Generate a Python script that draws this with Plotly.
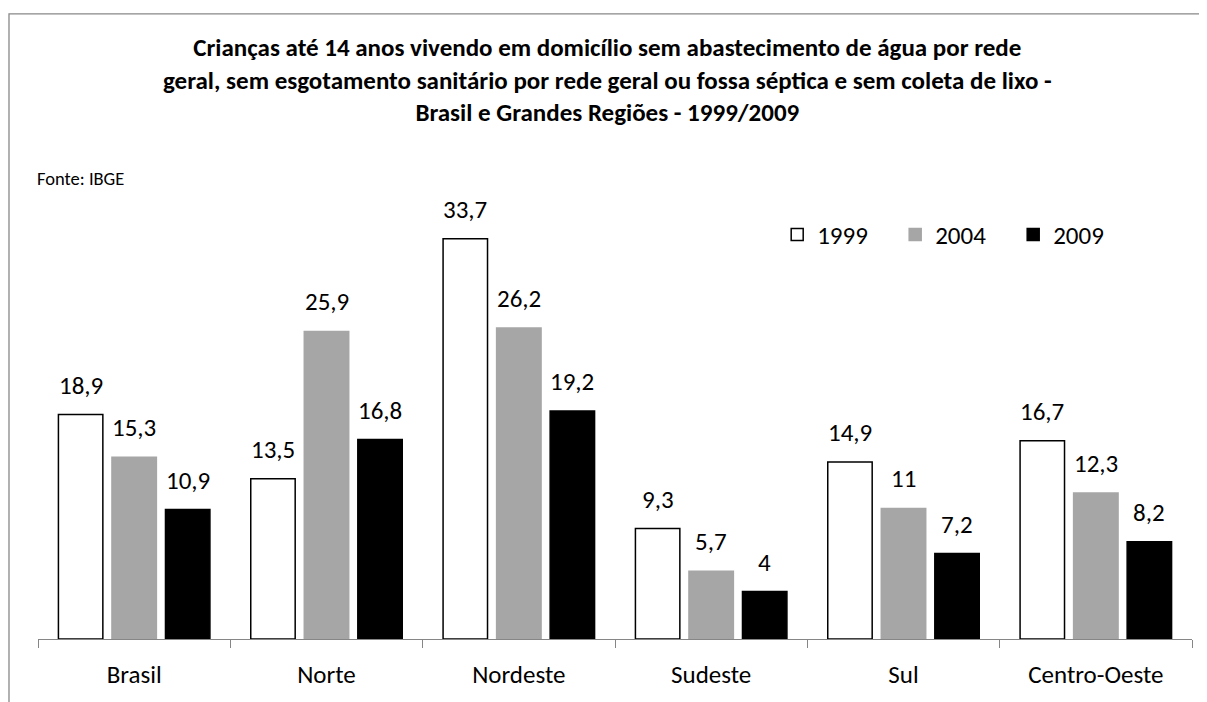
import plotly.graph_objects as go

categories = ["Brasil", "Norte", "Nordeste", "Sudeste", "Sul", "Centro-Oeste"]
years = ["1999", "2004", "2009"]
v1999 = [18.9, 13.5, 33.7, 9.3, 14.9, 16.7]
v2004 = [15.3, 25.9, 26.2, 5.7, 11.0, 12.3]
v2009 = [10.9, 16.8, 19.2, 4.0, 7.2, 8.2]
series = [v1999, v2004, v2009]
title_lines = [
    "Crianças até 14 anos vivendo em domicílio sem abastecimento de água por rede",
    "geral, sem esgotamento sanitário por rede geral ou fossa séptica e sem coleta de lixo -",
    "Brasil e Grandes Regiões - 1999/2009",
]

fills = ["#FFFFFF", "#A6A6A6", "#000000"]
lines = ["#000000", "#A6A6A6", "#000000"]

FONT = "Carlito, Calibri, Lato, sans-serif"
OFF = 8  # page body margin
W, H = 1207 - OFF, 702 - OFF
ML, MR, MT, MB = 30, 15.3, 155.5, 59
PW, PH = W - ML - MR, H - MT - MB


def px(x):  # reference page x -> paper x
    return (x - OFF - ML) / PW


def py(y):  # reference page y -> paper y
    return 1 - (y - OFF - MT) / PH


def fmt(v):
    s = ("%.1f" % v).rstrip("0").rstrip(".")
    return s.replace(".", ",")


fig = go.Figure()
for name, vals, fc, lc in zip(years, series, fills, lines):
    fig.add_trace(go.Bar(
        x=categories, y=vals, name=name,
        marker=dict(color=fc, line=dict(color=lc, width=1.5)),
        hoverinfo="skip",
    ))

BARGAP, GROUPGAP = 0.165, 0.17
slot = PW / len(categories) * (1 - BARGAP) / 3
annotations = []
for i, vals in enumerate(series):
    for c, v in zip(categories, vals):
        annotations.append(dict(
            x=c, y=v, xref="x", yref="y", text=fmt(v), showarrow=False,
            xshift=(i - 1) * slot, yanchor="bottom", yshift=12,
            font=dict(family=FONT, size=25, color="#000000"),
        ))

annotations.append(dict(
    x=px(607), y=py(79), xref="paper", yref="paper",
    text="<b>" + "<br>".join(title_lines) + "</b>", showarrow=False,
    xanchor="center", yanchor="middle", align="center",
    font=dict(family=FONT, size=25, color="#000000"),
))

annotations.append(dict(
    x=px(35), y=py(178), xref="paper", yref="paper", text="Fonte: IBGE",
    showarrow=False, xanchor="left", yanchor="middle",
    font=dict(family=FONT, size=18.5, color="#000000"),
))

fig.update_layout(
    width=W, height=H,
    margin=dict(l=ML, r=MR, t=MT, b=MB),
    paper_bgcolor="white", plot_bgcolor="white",
    barmode="group", bargap=BARGAP, bargroupgap=GROUPGAP,
    xaxis=dict(
        showline=True, linecolor="#868686", linewidth=1.3,
        ticks="outside", tickson="boundaries", ticklen=8, tickcolor="#868686", tickwidth=1.3,
        tickfont=dict(family=FONT, size=25, color="#000000"), ticklabelstandoff=13,
        showgrid=False, zeroline=False, fixedrange=True,
    ),
    yaxis=dict(range=[0, 40], visible=False, showgrid=False, zeroline=False),
    legend=dict(
        orientation="h", x=px(777), xanchor="left",
        y=py(235), yanchor="middle",
        font=dict(family=FONT, size=25, color="#000000"),
        entrywidth=73, entrywidthmode="pixels", bgcolor="rgba(0,0,0,0)",
    ),
    annotations=annotations,
    shapes=[dict(
        type="rect", xref="paper", yref="paper",
        x0=px(9), x1=px(1240), y0=py(740), y1=py(12),
        line=dict(color="#888888", width=1.3), fillcolor="rgba(0,0,0,0)", layer="below",
    )],
    showlegend=True,
)

fig.write_html("out.html")
